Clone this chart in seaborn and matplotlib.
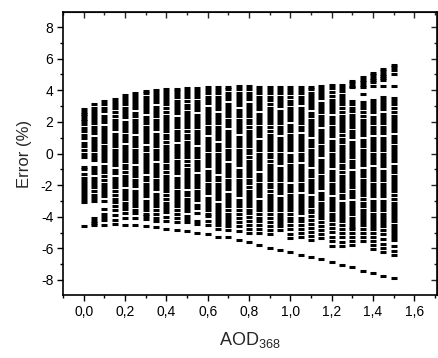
import matplotlib
matplotlib.use("Agg")
import matplotlib.pyplot as plt
from matplotlib.ticker import MultipleLocator
import seaborn as sns
import pandas as pd

# AOD values of the 31 columns
aod = [0.00, 0.05, 0.10, 0.15, 0.20, 0.25, 0.30, 0.35, 0.40, 0.45, 0.50,
       0.55, 0.60, 0.65, 0.70, 0.75, 0.80, 0.85, 0.90, 0.95, 1.00,
       1.05, 1.10, 1.15, 1.20, 1.25, 1.30, 1.35, 1.40, 1.45, 1.50]

# Error (%) values read from each column
e_000 = [2.8, 2.65, 2.5, 2.35, 2.2, 2.05, 1.85, 1.6, 1.4, 1.2, 0.95, 0.65, 0.45, 0.2, 0.0, -0.25,
         -0.85, -1.0, -1.3, -1.55, -1.75, -1.9, -2.1, -2.3, -2.5, -2.7, -2.9, -3.05, -4.6]
e_005 = [3.1, 2.9, 2.7, 2.5, 2.3, 2.1, 1.9, 1.7, 1.5, 1.3, 1.0, 0.8, 0.6, 0.4, 0.2, 0.0, -0.2, -0.4,
         -0.85, -1.05, -1.25, -1.55, -1.75, -1.95, -2.15, -2.35, -2.6, -2.8, -3.0,
         -4.1, -4.25, -4.4, -4.55]
e_010 = [3.3, 3.1, 2.9, 2.7, 2.4, 2.2, 2.0, 1.7, 1.5, 1.3, 1.1, 0.9, 0.7, 0.5, 0.3, 0.1, -0.1, -0.3,
         -0.5, -0.8, -1.0, -1.2, -1.4, -1.7, -1.9, -2.1, -2.3, -2.5, -2.7, -3.0, -3.5, -3.8, -4.0,
         -4.2, -4.5]
e_015 = [3.45, 3.25, 3.05, 2.85, 2.65, 2.35, 2.15, 1.95, 1.75, 1.55, 1.25, 1.05, 0.85, 0.65, 0.45,
         0.25, 0.05, -0.15, -0.35, -0.55, -0.75, -1.05, -1.25, -1.55, -1.75, -1.95, -2.15, -2.35,
         -2.65, -2.85, -3.05, -3.3, -3.6, -3.9, -4.2, -4.48]
e_020 = [3.7, 3.5, 3.3, 3.1, 2.9, 2.7, 2.5, 2.3, 2.0, 1.8, 1.6, 1.4, 1.2, 1.0, 0.8, 0.5, 0.3, 0.1,
         -0.1, -0.3, -0.5, -0.7, -0.9, -1.2, -1.4, -1.6, -1.8, -2.0, -2.3, -2.5, -2.7, -2.9, -3.1,
         -3.3, -3.5, -3.75, -4.05, -4.5]
e_025 = [3.85, 3.65, 3.45, 3.25, 3.05, 2.85, 2.55, 2.35, 2.15, 1.95, 1.75, 1.55, 1.35, 1.05, 0.85,
         0.65, 0.45, 0.25, 0.05, -0.15, -0.35, -0.55, -0.85, -1.05, -1.25, -1.45, -1.65, -1.85,
         -2.05, -2.35, -2.55, -2.75, -2.95, -3.15, -3.35, -3.55, -3.75, -4.05, -4.52]
e_030 = [3.97, 3.8, 3.6, 3.4, 3.2, 3.0, 2.8, 2.6, 2.3, 2.1, 1.9, 1.7, 1.5, 1.3, 1.1, 0.9, 0.7, 0.4,
         0.2, 0.0, -0.2, -0.4, -0.6, -0.8, -1.0, -1.2, -1.5, -1.7, -1.9, -2.1, -2.3, -2.5, -2.7,
         -3.0, -3.2, -3.4, -3.6, -3.8, -3.95, -4.15, -4.58]
e_035 = [4.03, 3.85, 3.65, 3.45, 3.25, 2.95, 2.75, 2.55, 2.35, 2.15, 1.95, 1.75, 1.55, 1.25, 1.05,
         0.85, 0.65, 0.45, 0.25, 0.05, -0.15, -0.35, -0.65, -0.85, -1.05, -1.25, -1.45, -1.65,
         -1.85, -2.05, -2.25, -2.55, -2.75, -2.95, -3.15, -3.35, -3.55, -3.85, -4.1, -4.3, -4.65]
e_040 = [4.08, 3.9, 3.7, 3.5, 3.3, 3.1, 2.9, 2.6, 2.4, 2.2, 2.0, 1.8, 1.6, 1.4, 1.2, 1.0, 0.7, 0.5,
         0.3, 0.1, -0.1, -0.3, -0.5, -0.7, -0.9, -1.2, -1.4, -1.6, -1.8, -2.0, -2.2, -2.4, -2.6,
         -2.9, -3.1, -3.3, -3.5, -3.7, -4.0, -4.3, -4.75]
e_045 = [4.11, 3.95, 3.75, 3.55, 3.35, 3.15, 2.95, 2.75, 2.55, 2.25, 2.05, 1.85, 1.65, 1.45, 1.25,
         1.05, 0.85, 0.55, 0.35, 0.15, -0.05, -0.25, -0.45, -0.65, -0.85, -1.05, -1.25, -1.55,
         -1.75, -1.95, -2.15, -2.35, -2.55, -2.75, -2.95, -3.15, -3.35, -3.55, -3.85, -4.05,
         -4.35, -4.83]
e_050 = [4.15, 3.95, 3.75, 3.55, 3.35, 3.05, 2.85, 2.65, 2.45, 2.25, 2.05, 1.85, 1.65, 1.45, 1.15,
         0.95, 0.75, 0.55, 0.35, 0.15, -0.05, -0.25, -0.45, -0.75, -0.95, -1.15, -1.35, -1.55,
         -1.75, -1.95, -2.15, -2.45, -2.65, -2.85, -3.05, -3.25, -3.45, -3.65, -3.95, -4.15,
         -4.35, -4.91]
e_055 = [4.16, 3.95, 3.75, 3.55, 3.35, 3.15, 2.95, 2.75, 2.45, 2.25, 2.05, 1.85, 1.65, 1.45, 1.25,
         1.05, 0.85, 0.65, 0.35, 0.15, -0.05, -0.25, -0.45, -0.65, -0.85, -1.05, -1.35, -1.55,
         -1.75, -1.95, -2.15, -2.35, -2.55, -2.75, -2.95, -3.25, -3.45, -3.75, -4.25, -4.45, -5.02]
e_060 = [4.18, 4.0, 3.8, 3.6, 3.4, 3.2, 2.9, 2.7, 2.5, 2.3, 2.1, 1.9, 1.7, 1.5, 1.3, 1.0, 0.8, 0.6,
         0.4, 0.2, 0.0, -0.2, -0.4, -0.6, -0.8, -1.1, -1.3, -1.5, -1.7, -1.9, -2.1, -2.3, -2.5,
         -2.8, -3.0, -3.2, -3.4, -3.6, -3.8, -3.95, -4.25, -4.5, -5.12]
e_065 = [4.2, 4.0, 3.8, 3.6, 3.4, 3.2, 3.0, 2.8, 2.5, 2.3, 2.1, 1.9, 1.7, 1.5, 1.3, 1.1, 0.9, 0.6,
         0.4, 0.2, 0.0, -0.2, -0.4, -0.6, -0.8, -1.0, -1.2, -1.5, -1.7, -1.9, -2.1, -2.3, -2.5,
         -2.7, -2.9, -3.2, -3.4, -3.6, -3.75, -3.95, -4.15, -4.35, -4.55, -4.75, -5.25]
e_070 = [4.22, 4.05, 3.85, 3.65, 3.45, 3.15, 2.95, 2.75, 2.55, 2.35, 2.15, 1.95, 1.75, 1.45, 1.25,
         1.05, 0.85, 0.65, 0.45, 0.25, 0.05, -0.15, -0.35, -0.65, -0.85, -1.05, -1.25, -1.45,
         -1.65, -1.85, -2.05, -2.25, -2.55, -2.75, -2.95, -3.15, -3.35, -3.55, -3.8, -4.0, -4.2,
         -4.4, -4.6, -4.85, -5.31]
e_075 = [4.24, 4.05, 3.85, 3.65, 3.45, 3.25, 3.05, 2.75, 2.55, 2.35, 2.15, 1.95, 1.75, 1.55, 1.35,
         1.05, 0.85, 0.65, 0.45, 0.25, 0.05, -0.15, -0.35, -0.55, -0.75, -1.05, -1.25, -1.45,
         -1.65, -1.85, -2.05, -2.25, -2.45, -2.65, -2.95, -3.15, -3.35, -3.6, -3.85, -4.1, -4.35,
         -4.6, -4.9, -5.46]
e_080 = [4.24, 4.05, 3.85, 3.65, 3.45, 3.15, 2.95, 2.75, 2.55, 2.35, 2.15, 1.95, 1.65, 1.45, 1.25,
         1.05, 0.85, 0.65, 0.45, 0.25, 0.05, -0.25, -0.45, -0.65, -0.85, -1.05, -1.25, -1.45,
         -1.65, -1.85, -2.15, -2.35, -2.55, -2.75, -2.95, -3.15, -3.35, -3.55, -3.75, -4.0, -4.3,
         -4.55, -4.8, -5.0, -5.58]
e_085 = [4.2, 4.0, 3.8, 3.6, 3.4, 3.2, 3.0, 2.8, 2.5, 2.3, 2.1, 1.9, 1.7, 1.5, 1.3, 1.1, 0.8, 0.6,
         0.4, 0.2, 0.0, -0.2, -0.4, -0.6, -0.8, -1.0, -1.3, -1.5, -1.7, -1.9, -2.1, -2.3, -2.5,
         -2.7, -3.0, -3.2, -3.4, -3.6, -3.8, -4.05, -4.3, -4.5, -4.75, -5.0, -5.78]
e_090 = [4.18, 4.0, 3.8, 3.6, 3.4, 3.1, 2.9, 2.7, 2.5, 2.3, 2.1, 1.9, 1.7, 1.4, 1.2, 1.0, 0.8, 0.6,
         0.4, 0.2, 0.0, -0.2, -0.5, -0.7, -0.9, -1.1, -1.3, -1.5, -1.7, -1.9, -2.1, -2.4, -2.6,
         -2.8, -3.0, -3.2, -3.4, -3.6, -3.8, -4.1, -4.35, -4.6, -4.85, -5.1, -5.98]
e_095 = [4.2, 4.0, 3.8, 3.6, 3.4, 3.2, 3.0, 2.7, 2.5, 2.3, 2.1, 1.9, 1.7, 1.5, 1.3, 1.0, 0.8, 0.6,
         0.4, 0.2, 0.0, -0.2, -0.4, -0.6, -0.9, -1.1, -1.3, -1.5, -1.7, -1.9, -2.1, -2.3, -2.5,
         -2.8, -3.0, -3.2, -3.4, -3.6, -3.8, -4.0, -4.2, -4.4, -4.6, -4.85, -6.1]
e_100 = [4.2, 4.0, 3.8, 3.6, 3.3, 3.1, 2.9, 2.7, 2.5, 2.3, 2.1, 1.8, 1.6, 1.4, 1.2, 1.0, 0.8, 0.6,
         0.4, 0.2, -0.1, -0.3, -0.5, -0.7, -0.9, -1.1, -1.3, -1.5, -1.7, -2.0, -2.2, -2.4, -2.6,
         -2.8, -3.0, -3.2, -3.4, -3.55, -3.8, -4.05, -4.3, -4.55, -4.8, -5.1, -5.35, -6.26]
e_105 = [4.2, 4.0, 3.8, 3.6, 3.4, 3.2, 2.9, 2.7, 2.5, 2.3, 2.1, 1.9, 1.7, 1.5, 1.2, 1.0, 0.8, 0.6,
         0.4, 0.2, 0.0, -0.2, -0.4, -0.7, -0.9, -1.1, -1.3, -1.5, -1.7, -1.9, -2.1, -2.3, -2.6,
         -2.8, -3.0, -3.2, -3.4, -3.6, -3.75, -4.05, -4.3, -4.55, -4.8, -5.05, -5.3, -6.4]
e_110 = [4.2, 4.05, 3.85, 3.65, 3.45, 3.25, 3.05, 2.85, 2.55, 2.35, 2.15, 1.95, 1.75, 1.55, 1.35,
         1.15, 0.85, 0.65, 0.45, 0.25, 0.05, -0.15, -0.35, -0.55, -0.75, -1.05, -1.25, -1.45,
         -1.65, -1.85, -2.05, -2.25, -2.45, -2.75, -2.95, -3.15, -3.35, -3.55, -3.7, -3.95, -4.2,
         -4.45, -4.7, -4.95, -5.2, -5.5, -6.53]
e_115 = [4.28, 4.1, 3.9, 3.7, 3.5, 3.2, 3.0, 2.8, 2.6, 2.4, 2.2, 2.0, 1.8, 1.5, 1.3, 1.1, 0.9, 0.7,
         0.5, 0.3, 0.1, -0.1, -0.4, -0.6, -0.8, -1.0, -1.2, -1.4, -1.6, -1.8, -2.0, -2.2, -2.5,
         -2.7, -2.9, -3.1, -3.3, -3.5, -3.7, -3.9, -4.1, -4.35, -4.6, -4.85, -5.1, -5.35, -6.68]
e_120 = [4.35, 4.15, 3.9, 3.65, 3.4, 3.2, 3.0, 2.8, 2.6, 2.3, 2.1, 1.9, 1.7, 1.5, 1.3, 1.1, 0.8,
         0.6, 0.4, 0.2, 0.0, -0.2, -0.4, -0.6, -0.8, -1.1, -1.3, -1.5, -1.7, -1.9, -2.1, -2.3,
         -2.5, -2.8, -3.0, -3.2, -3.4, -3.6, -3.8, -4.0, -4.2, -4.45, -4.7, -4.95, -5.25, -5.55,
         -5.85, -6.85]
e_125 = [4.35, 4.15, 3.95, 3.7, 3.5, 3.3, 3.1, 2.9, 2.6, 2.4, 2.2, 2.0, 1.8, 1.6, 1.4, 1.2, 0.9,
         0.7, 0.5, 0.3, 0.1, -0.1, -0.3, -0.5, -0.7, -0.9, -1.2, -1.4, -1.6, -1.8, -2.0, -2.2,
         -2.4, -2.6, -2.8, -3.1, -3.3, -3.5, -3.7, -3.9, -4.1, -4.3, -4.55, -4.8, -5.05, -5.3,
         -5.6, -5.85, -7.03]
e_130 = [4.6, 4.45, 4.3, 4.2, 3.35, 3.1, 2.9, 2.7, 2.45, 2.25, 2.05, 1.85, 1.65, 1.45, 1.25, 1.05,
         0.75, 0.55, 0.35, 0.15, -0.05, -0.25, -0.45, -0.65, -0.85, -1.15, -1.35, -1.55, -1.75,
         -1.95, -2.15, -2.35, -2.55, -2.75, -3.05, -3.25, -3.45, -3.65, -3.85, -4.05, -4.25,
         -4.45, -4.65, -4.8, -5.05, -5.3, -5.55, -5.8, -7.2]
e_135 = [4.83, 4.65, 4.5, 4.35, 4.2, 3.76, 3.25, 3.05, 2.85, 2.65, 2.35, 2.15, 1.95, 1.75, 1.55,
         1.35, 1.15, 0.85, 0.65, 0.45, 0.25, 0.05, -0.15, -0.35, -0.55, -0.75, -1.05, -1.25,
         -1.45, -1.65, -1.85, -2.05, -2.25, -2.45, -2.65, -2.85, -3.15, -3.35, -3.55, -3.75,
         -3.95, -4.15, -4.35, -4.55, -4.8, -5.05, -5.3, -5.55, -7.41]
e_140 = [5.12, 4.95, 4.8, 4.65, 4.55, 4.28, 3.4, 3.2, 3.0, 2.8, 2.6, 2.3, 2.1, 1.9, 1.7, 1.5, 1.3,
         1.0, 0.8, 0.6, 0.4, 0.2, 0.0, -0.2, -0.4, -0.6, -0.9, -1.1, -1.3, -1.5, -1.7, -1.9, -2.1,
         -2.3, -2.5, -2.7, -3.0, -3.2, -3.4, -3.6, -3.8, -4.0, -4.2, -4.4, -4.6, -4.8, -5.05,
         -5.3, -5.55, -5.8, -6.05, -7.58]
e_145 = [5.35, 5.2, 5.05, 4.9, 4.75, 4.66, 4.28, 3.6, 3.4, 3.2, 3.0, 2.8, 2.5, 2.3, 2.1, 1.9, 1.7,
         1.5, 1.3, 1.0, 0.8, 0.6, 0.4, 0.2, 0.0, -0.2, -0.4, -0.6, -0.8, -1.1, -1.3, -1.5, -1.7,
         -1.9, -2.1, -2.3, -2.5, -2.7, -3.0, -3.2, -3.4, -3.6, -3.8, -4.0, -4.2, -4.4, -4.6,
         -4.85, -5.1, -5.4, -5.7, -6.0, -6.25, -7.73]
e_150 = [5.6, 5.45, 5.3, 5.04, 4.28, 3.5, 3.3, 3.1, 2.9, 2.6, 2.4, 2.2, 2.0, 1.8, 1.6, 1.4, 1.1,
         0.9, 0.7, 0.5, 0.3, 0.1, -0.1, -0.3, -0.5, -0.8, -1.0, -1.2, -1.4, -1.6, -1.8, -2.0,
         -2.2, -2.4, -2.6, -2.9, -3.1, -3.3, -3.5, -3.7, -3.9, -4.1, -4.3, -4.5, -4.7, -4.9,
         -5.1, -5.3, -5.45, -5.85, -6.15, -6.45, -7.9]

columns = [e_000, e_005, e_010, e_015, e_020, e_025, e_030, e_035, e_040, e_045, e_050,
           e_055, e_060, e_065, e_070, e_075, e_080, e_085, e_090, e_095, e_100,
           e_105, e_110, e_115, e_120, e_125, e_130, e_135, e_140, e_145, e_150]

x_ticks = [0.0, 0.2, 0.4, 0.6, 0.8, 1.0, 1.2, 1.4, 1.6]
x_tick_labels = ["0,0", "0,2", "0,4", "0,6", "0,8", "1,0", "1,2", "1,4", "1,6"]
y_ticks = [-8, -6, -4, -2, 0, 2, 4, 6, 8]

rows = []
for a, vals in zip(aod, columns):
    for v in vals:
        rows.append((a, v))
df = pd.DataFrame(rows, columns=["AOD", "Error"])

sns.set_style("ticks")
plt.rcParams["font.family"] = ["Liberation Sans", "DejaVu Sans"]
plt.rcParams["mathtext.default"] = "regular"
plt.rcParams["axes.unicode_minus"] = False

fig = plt.figure(figsize=(4.39, 3.58), dpi=100)
ax = fig.add_axes([63 / 439, 1 - 295 / 358, (437 - 63) / 439, (295 - 12) / 358])

sns.scatterplot(data=df, x="AOD", y="Error", marker="_", s=22, color="black",
                linewidth=2.2, ax=ax, legend=False)
for coll in ax.collections:
    coll.set_capstyle("butt")

ax.set_xlim(-0.1, 1.71)
ax.set_ylim(-8.95, 8.95)
ax.set_xticks(x_ticks)
ax.set_xticklabels(x_tick_labels)
ax.set_yticks(y_ticks)
ax.set_yticklabels([str(t) for t in y_ticks])
ax.xaxis.set_minor_locator(MultipleLocator(0.1))
ax.yaxis.set_minor_locator(MultipleLocator(1))
ax.tick_params(which="major", direction="out", length=4, width=1, labelsize=10, color="black",
               labelcolor="black", pad=3)
ax.tick_params(which="minor", direction="out", length=2.5, width=1, color="black")
for sp in ax.spines.values():
    sp.set_linewidth(1.2)
    sp.set_color("black")

top = ax.secondary_xaxis("top")
top.set_xticks(x_ticks)
top.set_xticklabels([])
top.xaxis.set_minor_locator(MultipleLocator(0.1))
top.tick_params(which="major", direction="in", length=4, width=1)
top.tick_params(which="minor", direction="in", length=2.5, width=1)
right = ax.secondary_yaxis("right")
right.set_yticks(y_ticks)
right.set_yticklabels([])
right.yaxis.set_minor_locator(MultipleLocator(1))
right.tick_params(which="major", direction="in", length=4, width=1)
right.tick_params(which="minor", direction="in", length=2.5, width=1)

ax.set_xlabel("AOD$_{368}$", fontsize=13, labelpad=8)
ax.set_ylabel("Error (%)", fontsize=12, labelpad=6)

fig.savefig("out.png", dpi=100)
